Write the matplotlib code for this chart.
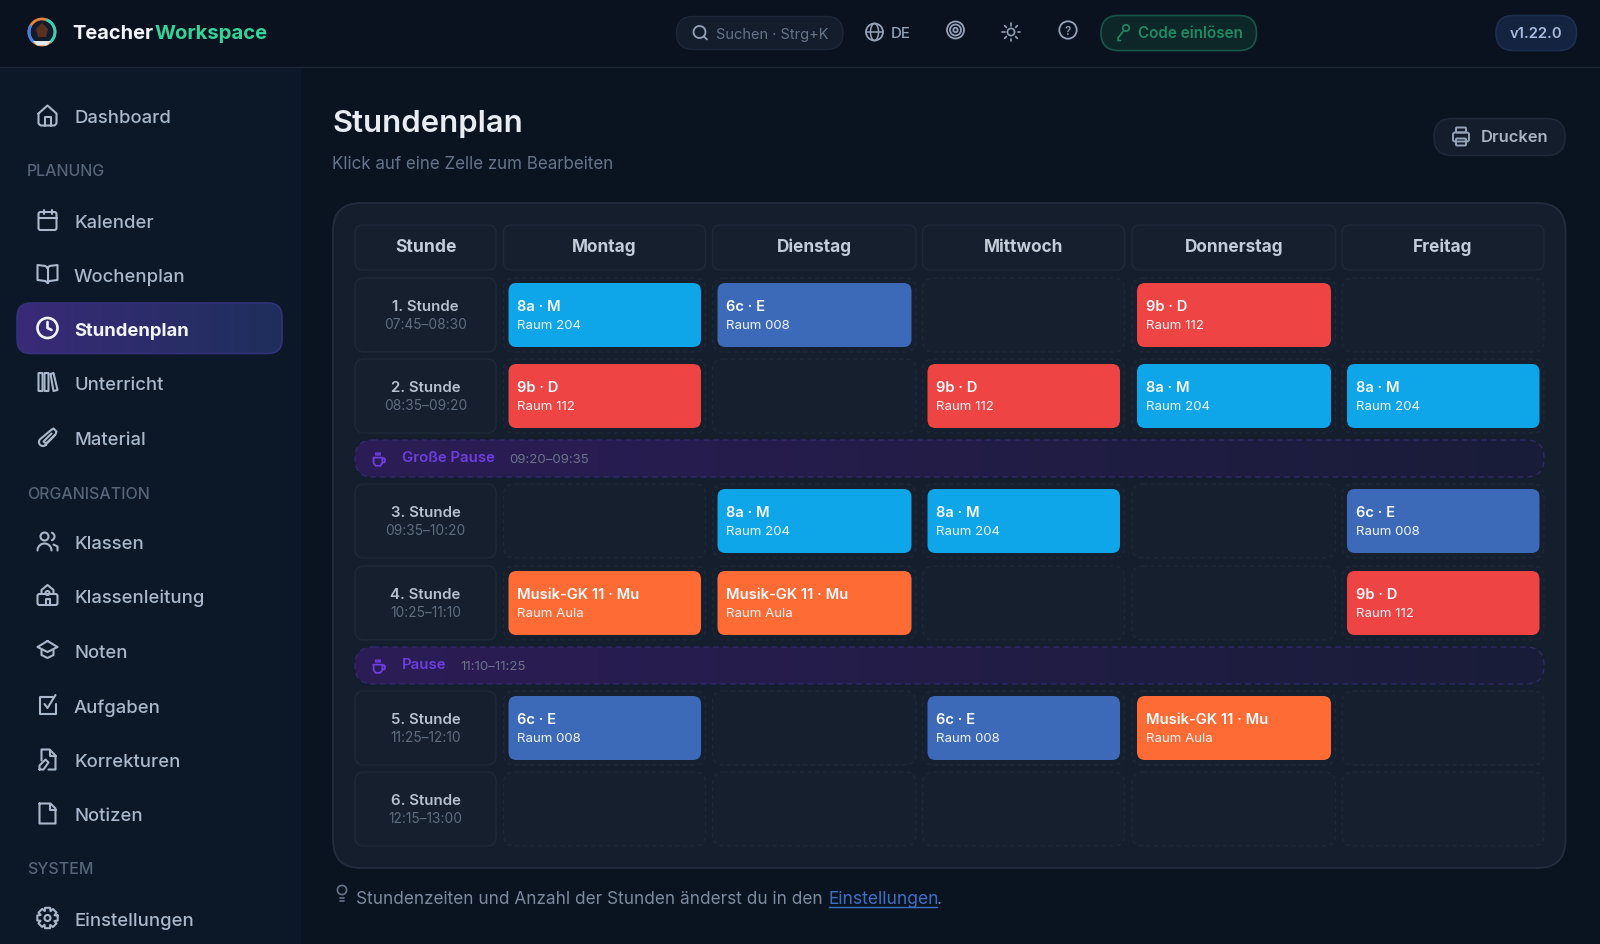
import numpy as np
import matplotlib
matplotlib.use("Agg")
import matplotlib.pyplot as plt
from matplotlib.patches import FancyBboxPatch, Circle, Arc, Rectangle, Polygon
from matplotlib.colors import LinearSegmentedColormap

# ---------- content ----------
days = ["Montag", "Dienstag", "Mittwoch", "Donnerstag", "Freitag"]
periods = ["1. Stunde", "2. Stunde", "3. Stunde", "4. Stunde", "5. Stunde", "6. Stunde"]
times = ["07:45–08:30", "08:35–09:20", "09:35–10:20", "10:25–11:10", "11:25–12:10", "12:15–13:00"]
lessons = {"a": "8a · M", "c": "6c · E", "b": "9b · D", "m": "Musik-GK 11 · Mu"}
rooms = {"a": "Raum 204", "c": "Raum 008", "b": "Raum 112", "m": "Raum Aula"}
schedule = [
    ["a", "c", None, "b", None],
    ["b", None, "b", "a", "a"],
    [None, "a", "a", None, "c"],
    ["m", "m", None, None, "b"],
    ["c", None, "c", "m", None],
    [None, None, None, None, None],
]
breaks = [("Große Pause", "09:20–09:35"), ("Pause", "11:10–11:25")]
nav_items = ["Dashboard", "Kalender", "Wochenplan", "Stundenplan", "Unterricht", "Material",
             "Klassen", "Klassenleitung", "Noten", "Aufgaben", "Korrekturen", "Notizen", "Einstellungen"]
nav_sections = ["PLANUNG", "ORGANISATION", "SYSTEM"]

# ---------- layout and style ----------
colors = {"a": "#0ea5e9", "c": "#3d6ab8", "b": "#ef4444", "m": "#ff6b35"}
col_x = [503.5, 712.5, 922.5, 1132, 1342]
col_w = [202, 203.5, 202, 203.5, 202]
row_y = [279, 360, 485, 567, 692, 773]
row_h = 74
break_y = [441, 648]
nav_y = [116.5, 221, 275, 329, 383, 438.5, 542.5, 596, 651, 706, 760.5, 814.5, 919]
section_y = [170.5, 493, 868.5]
FONT = "Inter"
plt.rcParams["font.family"] = [FONT, "DejaVu Sans"]

fig = plt.figure(figsize=(16, 9.45), dpi=100)
ax = fig.add_axes([0, 0, 1, 1])
ax.set_xlim(0, 1600)
ax.set_ylim(945, 0)
ax.axis("off")
PT = 0.72

def rrect(x0, y0, x1, y1, r, fc="none", ec="none", lw=1, ls="-", z=2):
    p = FancyBboxPatch((x0, y0), x1 - x0, y1 - y0, boxstyle=f"round,pad=0,rounding_size={r}",
                       fc=fc, ec=ec, lw=lw, ls=ls, zorder=z)
    ax.add_patch(p)
    return p

def grad(x0, y0, x1, y1, r, c0, c1, ec="none", lw=1, ls="-", z=2):
    cm = LinearSegmentedColormap.from_list("g", [c0, c1])
    im = ax.imshow(np.linspace(0, 1, 256)[None, :], extent=(x0, x1, y1, y0), cmap=cm, aspect="auto",
                   zorder=z, interpolation="bilinear")
    clip = rrect(x0, y0, x1, y1, r, fc="none", z=z)
    im.set_clip_path(clip)
    if ec != "none":
        rrect(x0, y0, x1, y1, r, ec=ec, lw=lw, ls=ls, z=z + 0.1)

def text(x, y, s, px, color, weight="normal", ha="left", z=6):
    # y is the middle of the capital letters; a shared baseline keeps neighbours level
    return ax.text(x, y + 0.36 * px, s, fontsize=px * PT, color=color, fontweight=weight, ha=ha,
                   va="baseline", zorder=z)

def pl(cx, cy, pts, color, s=1.0, lw=1.5, closed=False, z=6):
    pts = np.array(pts, float)
    if closed:
        pts = np.vstack([pts, pts[0]])
    ax.plot(cx + (pts[:, 0] - 12) * s, cy + (pts[:, 1] - 12) * s, color=color, lw=lw, zorder=z,
            solid_capstyle="round", solid_joinstyle="round")

def circ(cx, cy, ox, oy, r, color, s=1.0, lw=1.5, fc="none", z=6):
    ax.add_patch(Circle((cx + (ox - 12) * s, cy + (oy - 12) * s), r * s, fc=fc, ec=color, lw=lw, zorder=z))

def rbox(cx, cy, x0, y0, x1, y1, r, color, s=1.0, lw=1.5, z=6):
    rrect(cx + (x0 - 12) * s, cy + (y0 - 12) * s, cx + (x1 - 12) * s, cy + (y1 - 12) * s, r * s, ec=color, lw=lw, z=z)

def arc_pts(ox, oy, r, a0, a1, n=24):
    t = np.radians(np.linspace(a0, a1, n))
    return np.c_[ox + r * np.cos(t), oy + r * np.sin(t)]

def icon(name, cx, cy, c, s=1.0, lw=1.5):
    if name == "Dashboard":
        pl(cx, cy, [(3, 10), (12, 2), (21, 10), (21, 20), (19, 22), (5, 22), (3, 20)], c, s, lw, True)
        pl(cx, cy, [(9, 22), (9, 13), (15, 13), (15, 22)], c, s, lw)
    elif name == "Kalender":
        rbox(cx, cy, 3, 4, 21, 22, 2, c, s, lw)
        pl(cx, cy, [(3, 10), (21, 10)], c, s, lw)
        pl(cx, cy, [(8, 2), (8, 6)], c, s, lw)
        pl(cx, cy, [(16, 2), (16, 6)], c, s, lw)
    elif name == "Wochenplan":
        pl(cx, cy, [(12, 6), (10, 4), (2, 3), (2, 18), (10, 19), (12, 21), (14, 19), (22, 18), (22, 3), (14, 4)], c, s, lw, True)
        pl(cx, cy, [(12, 6), (12, 21)], c, s, lw)
    elif name == "Stundenplan":
        circ(cx, cy, 12, 12, 10, c, s, lw)
        pl(cx, cy, [(12, 6), (12, 12), (16, 14)], c, s, lw)
    elif name == "Unterricht":
        rbox(cx, cy, 3, 3, 7, 21, 0.5, c, s, lw)
        rbox(cx, cy, 9, 3, 13, 21, 0.5, c, s, lw)
        pl(cx, cy, [(15, 4), (18, 3), (22, 20), (18, 21)], c, s, lw, True)
    elif name == "Material":
        t = arc_pts(7.5, 16.5, 4, 45, 225)
        pl(cx, cy, [(19, 10), (10, 19.5)] + [tuple(p) for p in t] + [(15, 5), (18, 3), (21, 6), (20, 9), (10.5, 18), (8, 16), (16, 8)], c, s, lw)
    elif name == "Klassen":
        circ(cx, cy, 9, 7, 4, c, s, lw)
        pl(cx, cy, arc_pts(9, 21, 7, 180, 360), c, s, lw)
        pl(cx, cy, arc_pts(15, 7, 4, -70, 70), c, s, lw)
        pl(cx, cy, [(18, 15), (22, 17), (22, 21)], c, s, lw)
    elif name == "Klassenleitung":
        rbox(cx, cy, 2, 11, 22, 22, 2, c, s, lw)
        pl(cx, cy, [(6, 11), (6, 7), (12, 2), (18, 7), (18, 11)], c, s, lw)
        circ(cx, cy, 12, 10, 2, c, s, lw)
        pl(cx, cy, [(10, 22), (10, 16), (14, 16), (14, 22)], c, s, lw)
    elif name == "Noten":
        pl(cx, cy, [(12, 3), (22, 9), (12, 14), (2, 9)], c, s, lw, True)
        pl(cx, cy, [(6, 12), (6, 17), (12, 20), (18, 17), (18, 12)], c, s, lw)
    elif name == "Aufgaben":
        pl(cx, cy, [(20, 11), (20, 21), (4, 21), (4, 4), (17, 4)], c, s, lw)
        pl(cx, cy, [(9, 11), (12, 15), (20, 2)], c, s, lw)
    elif name == "Korrekturen":
        pl(cx, cy, [(6, 13), (6, 2), (14, 2), (20, 8), (20, 22), (13, 22)], c, s, lw)
        pl(cx, cy, [(14, 2), (14, 8), (20, 8)], c, s, lw)
        pl(cx, cy, [(4, 22), (4, 18), (10, 12), (13, 15), (8, 22)], c, s, lw, True)
    elif name == "Notizen":
        pl(cx, cy, [(4, 2), (15, 2), (20, 7), (20, 22), (4, 22)], c, s, lw, True)
        pl(cx, cy, [(14, 2), (14, 8), (20, 8)], c, s, lw)
    elif name == "Einstellungen":
        ang = np.arange(0, 360, 45)
        pts = []
        for a in ang:
            for d, rr in ((-14, 10.5), (14, 10.5), (24, 7.5)):
                t = np.radians(a + d)
                pts.append((12 + rr * np.cos(t), 12 + rr * np.sin(t)))
        pl(cx, cy, pts, c, s, lw, True)
        circ(cx, cy, 12, 12, 3, c, s, lw)
    elif name == "cup":
        pl(cx, cy, [(4, 10), (17, 10), (17, 18), (14, 22), (7, 22), (4, 18)], c, s, lw, True)
        pl(cx, cy, [(17, 11), (20, 11), (21, 14), (20, 17), (17, 17)], c, s, lw)
        for x in (7, 10.5, 14):
            pl(cx, cy, [(x, 3), (x, 6)], c, s, lw)

# ---------- backgrounds ----------
BG = "#0a1320"
ax.add_patch(Rectangle((0, 0), 1600, 945, fc=BG, ec="none", zorder=0))
ax.add_patch(Rectangle((0, 68), 301, 877, fc="#0c1727", ec="none", zorder=0.5))
ax.add_patch(Rectangle((0, 0), 1600, 68, fc="#0a121f", ec="none", zorder=1))
ax.plot([0, 1600], [68, 68], color="#1c2838", lw=1, zorder=1.2)

# ---------- top bar ----------
ax.add_patch(Circle((42, 33), 13, fc="#131c2b", ec="#e8813a", lw=2, zorder=3))
ax.add_patch(Arc((42, 33), 26, 26, theta1=-70, theta2=50, ec="#2dd4bf", lw=2, zorder=3.1))
ax.add_patch(Arc((42, 33), 26, 26, theta1=130, theta2=210, ec="#3b82f6", lw=2, zorder=3.1))
ax.add_patch(Polygon([(36, 30), (42, 24), (48, 30), (46, 38), (38, 38)], fc="#5a3020", ec="none", zorder=3.2))
ax.add_patch(Polygon([(33, 42), (51, 42), (47, 46.5), (37, 46.5)], fc="#e2e8f0", ec="none", zorder=3.3))
text(72.5, 32, "Teacher", 20, "#f1f5f9", "bold")
text(155, 32, "Workspace", 20.3, "#34d399", "bold")

rrect(676.5, 17.5, 843, 50.5, 16.5, fc="#141d2c", ec="#1c2738")
circ(700, 33.5, 11.5, 11.5, 6, "#94a3b8", 1.0, 1.3)
pl(700, 33.5, [(16, 16), (19, 19)], "#94a3b8", 1.0, 1.3)
text(716, 33.5, "Suchen · Strg+K", 14.6, "#64748b")
circ(874.5, 33, 12, 12, 8.5, "#94a3b8", 1.0, 1.3)
ax.add_patch(Arc((874.5, 33), 8, 17, ec="#94a3b8", lw=1.1, zorder=6))
pl(874.5, 33, [(3.5, 12), (20.5, 12)], "#94a3b8", 1.0, 1.1)
text(891, 32.5, "DE", 15, "#94a3b8", "medium")
for r in (8.5, 5.5, 2.2):
    circ(955.5, 31, 12, 12, r, "#94a3b8", 1.0, 1.3)
circ(1011, 33, 12, 12, 3.6, "#94a3b8", 1.0, 1.2)
for a in range(0, 360, 45):
    t = np.radians(a)
    pl(1011, 33, [(12 + 6.5 * np.cos(t), 12 + 6.5 * np.sin(t)), (12 + 9 * np.cos(t), 12 + 9 * np.sin(t))], "#94a3b8", 1.0, 1.2)
circ(1068, 31, 12, 12, 8.7, "#94a3b8", 1.0, 1.3)
text(1068, 31, "?", 12, "#94a3b8", "medium", ha="center")
rrect(1101, 16.5, 1256.5, 51.5, 17.5, fc="#0d2729", ec="#17564a", lw=1.2)
circ(1124, 33, 14, 8, 3.2, "#1f8a63", 1.0, 1.2)
pl(1124, 33, [(11.5, 11), (6, 18), (6, 20.5), (8.5, 20.5)], "#1f8a63", 1.0, 1.2)
text(1137.5, 32.5, "Code einlösen", 15.2, "#1f8a63", "semibold")
rrect(1496, 16.5, 1576.5, 51.5, 17.5, fc="#14233f", ec="#1c2f4f", lw=1.2)
text(1536, 33, "v1.22.0", 14.8, "#a9bde0", "semibold", ha="center")

# ---------- sidebar ----------
grad(17, 304, 282, 354.5, 14, "#3a2a78", "#1e2f5c", ec="#33327a", lw=1.2, z=2)
NAV_C = "#a9b8cc"
for name, y in zip(nav_items, nav_y):
    active = name == "Stundenplan"
    c = "#f1f5f9" if active else NAV_C
    icon(name, 47.5, y, c, 1.0, 1.9 if active else 1.5)
    text(74, y, name, 18.5, c, "bold" if active else "medium")
for name, y in zip(nav_sections, section_y):
    text(27, y, name, 16, "#566579", "medium")

# ---------- page head ----------
text(332, 121, "Stundenplan", 31, "#e8edf4", "semibold")
text(332, 163, "Klick auf eine Zelle zum Bearbeiten", 17, "#64748b")
rrect(1434, 119.5, 1565, 156.5, 18, fc="#141d2c", ec="#1e2a3a", lw=1.1)
c = "#94a3b8"
rbox(1461, 137.5, 7, 3, 17, 8, 1, c, 1.0, 1.4)
rbox(1461, 137.5, 4, 8, 20, 17, 2, c, 1.0, 1.4)
rbox(1461, 137.5, 7, 14, 17, 21, 1, c, 1.0, 1.4)
text(1481, 136.5, "Drucken", 16.5, "#a8b3c4", "semibold")

# ---------- timetable card ----------
CELL = "#151f2e"
rrect(333, 204, 1565.5, 869, 28, fc="#141e2d", ec="#222d3e", lw=1.3, z=2)

rrect(355, 226, 496, 271, 8, fc=CELL, ec="#1d2838", lw=1.1, z=3)
text(425.5, 246, "Stunde", 17.5, "#c3ccd8", "bold", ha="center")
for d, x, w in zip(days, col_x, col_w):
    rrect(x, 226, x + w, 271, 8, fc=CELL, ec="#1d2838", lw=1.1, z=3)
    text(x + w / 2, 246, d, 17.2, "#c3ccd8", "bold", ha="center")

for (label, tm), y, tx in zip(breaks, break_y, (509, 460)):
    grad(355, y, 1544, y + 37, 18, "#2c1c56", "#191d38", ec="#30296c", lw=1, ls=(0, (4, 3)), z=3)
    icon("cup", 379, y + 19, "#6d3ee0", 0.68, 1.3)
    text(402, y + 16, label, 15, "#6d3ee0", "semibold")
    text(tx, y + 17, tm, 13.3, "#6b7488")

for r, (per, tm, y) in enumerate(zip(periods, times, row_y)):
    rrect(355, y, 496, y + row_h, 9, fc=CELL, ec="#1d2838", lw=1.1, z=3)
    text(425.5, y + 26.5, per, 15, "#b7c1cf", "semibold", ha="center")
    text(425.5, y + 45, tm, 13.7, "#5f6d80", ha="center")
    for c_i, (x, w) in enumerate(zip(col_x, col_w)):
        k = schedule[r][c_i]
        rrect(x, y, x + w, y + row_h, 11, fc=CELL, ec="#1d2839", lw=1, ls=(0, (3, 2.5)), z=3)
        if k:
            rrect(x + 5, y + 5, x + w - 4.5, y + row_h - 5, 8, fc=colors[k], z=4)
            text(x + 13.5, y + 26.5, lessons[k], 14.7, "#fbfdff", "semibold")
            text(x + 13.5, y + 45.5, rooms[k], 13.2, "#f1f5f9")

# ---------- footer ----------
c = "#64748b"
circ(342, 895, 12, 8, 4.6, c, 1.0, 1.2)
pl(342, 895, [(10, 16), (14, 16)], c, 1.0, 1.2)
pl(342, 895, [(10, 19), (14, 19)], c, 1.0, 1.2)
text(356, 898, "Stundenzeiten und Anzahl der Stunden änderst du in den", 17.2, "#7b8a9e")
text(829, 898, "Einstellungen", 17.5, "#3f6fc4")
ax.plot([829, 937], [907.5, 907.5], color="#3f6fc4", lw=1, zorder=6)
text(937, 898, ".", 17.5, "#7b8a9e")

fig.savefig("out.png", dpi=100, facecolor=BG)
